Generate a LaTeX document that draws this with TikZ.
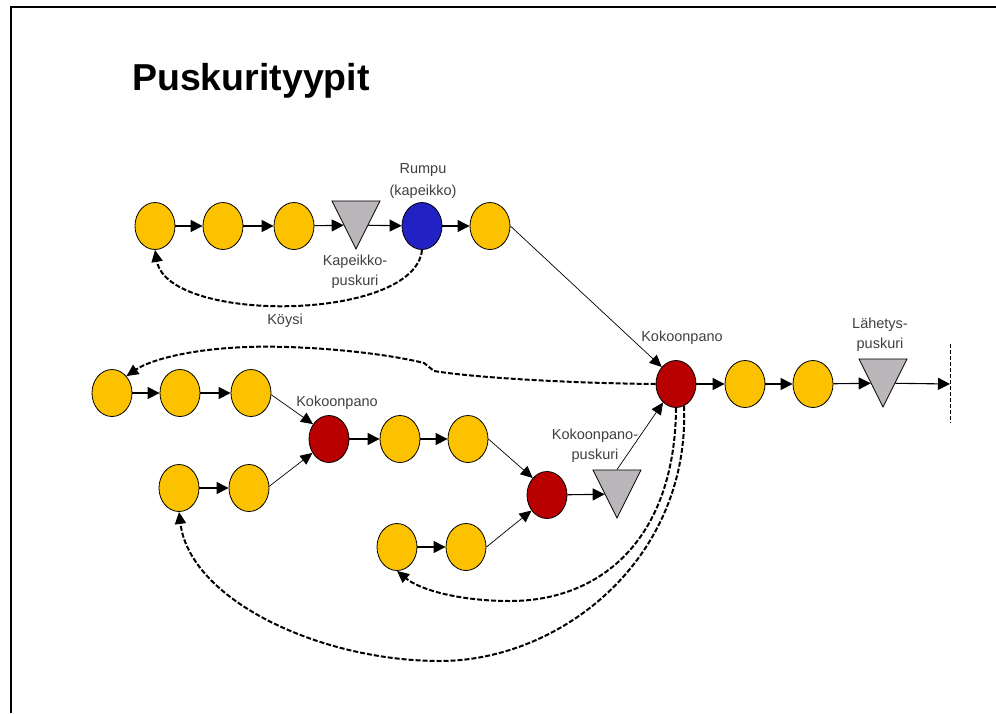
\documentclass[tikz,border=0pt]{standalone}
\usepackage{fontspec}
\setmainfont{Liberation Sans}
\usetikzlibrary{shapes.geometric,arrows.meta}
\definecolor{yel}{RGB}{252,194,0}
\definecolor{redn}{RGB}{184,0,0}
\definecolor{blun}{RGB}{34,34,196}
\definecolor{trig}{RGB}{186,182,186}
\definecolor{lbl}{RGB}{64,64,64}
\begin{document}
\begin{tikzpicture}[x=1pt,y=-1pt,
  ov/.style={ellipse, draw, line width=0.8pt, minimum width=40pt, minimum height=47pt, inner sep=0pt},
  yov/.style={ov, fill=yel}, rov/.style={ov, fill=redn}, bov/.style={ov, fill=blun},
  tri/.style={isosceles triangle, isosceles triangle stretches, shape border rotate=-90,
    minimum width=48pt, minimum height=48pt, inner sep=0pt, draw, line width=0.8pt, fill=trig, anchor=apex},
  arr/.style={line width=1.1pt, -{Triangle[length=12pt,width=12pt]}},
  darr/.style={line width=0.7pt, -{Triangle[length=12pt,width=11pt]}},
  dsh/.style={line width=2pt, dash pattern=on 5pt off 2pt, -{Triangle[length=12pt,width=11pt]}},
  lab/.style={font=\fontsize{14.5}{20}\selectfont, text=lbl, align=center, inner sep=0pt},
]
\useasboundingbox (0,0) rectangle (996,713);
\draw[line width=2pt] (11,713) -- (11,6.5) -- (996,6.5);
\node[anchor=base west, inner sep=0pt, font=\fontsize{37.5}{40}\selectfont\bfseries] (title) at (132,90) {Puskurityypit};

% top row
\node[yov] (A1) at (155,226) {};
\node[yov] (A2) at (223,226) {};
\node[yov] (A3) at (294,226) {};
\node[tri] (T1) at (356,250) {};
\node[bov] (B) at (422,226) {};
\node[yov] (A4) at (490,226) {};
\node[lab, font=\fontsize{14.5}{22}\selectfont] (lRumpu) at (423,181) {Rumpu\\(kapeikko)};
\node[lab] (lKap) at (355,272) {Kapeikko-\\puskuri};
\node[lab] (lKoy) at (285,321) {Köysi};

% middle rows
\node[yov] (M1) at (112,393) {};
\node[yov] (M2) at (180,393) {};
\node[yov] (M3) at (251,393) {};
\node[rov] (R1) at (329,439) {};
\node[lab] (lKok1) at (337,403) {Kokoonpano};
\node[yov] (M4) at (400,439) {};
\node[yov] (M5) at (468,439) {};
\node[yov] (L1) at (179,488) {};
\node[yov] (L2) at (249,488) {};
\node[rov] (R2) at (547,495) {};
\node[tri] (T2) at (617,519) {};
\node[lab] (lKp) at (595,446) {Kokoonpano-\\puskuri};
\node[yov] (P1) at (397,547) {};
\node[yov] (P2) at (466,547) {};

% main line
\node[rov] (R3) at (676,384) {};
\node[lab] (lKok2) at (682,338) {Kokoonpano};
\node[yov] (Y1) at (745,384) {};
\node[yov] (Y2) at (813,384) {};
\node[tri] (T3) at (883,408) {};
\node[lab] (lLah) at (880,335) {Lähetys-\\puskuri};
\coordinate (endc) at (950,384);
\coordinate (vtop) at (950,344);
\coordinate (vbot) at (950,423);

% solid connectors
\draw[arr] (A1) -- (A2);
\draw[arr] (A2) -- (A3);
\draw[arr] (A3) -- (T1.right side);
\draw[arr] (T1.left side) -- (B);
\draw[arr] (B) -- (A4);
\draw[darr] (A4.east) -- (R3.130);
\draw[arr] (M1) -- (M2);
\draw[arr] (M2) -- (M3);
\draw[darr] (M3.-5) -- (R1.137);
\draw[arr] (L1) -- (L2);
\draw[darr] (L2.5) -- (R1.-140);
\draw[arr] (R1) -- (M4);
\draw[arr] (M4) -- (M5);
\draw[darr] (M5.east) -- (R2.130);
\draw[arr] (P1) -- (P2);
\draw[darr] (P2.east) -- (R2.-135);
\draw[arr] (R2) -- (T2.right side);
\draw[darr] (T2.lower side) -- (R3.-125);
\draw[arr] (R3) -- (Y1);
\draw[arr] (Y1) -- (Y2);
\draw[arr] (Y2) -- (T3.right side);
\draw[arr] (T3.left side) -- (endc);
\draw[line width=1pt, dash pattern=on 4pt off 2pt] (vtop) -- (vbot);

% dashed loops
\draw[dsh] (B.south) .. controls (415,322) and (168,324) .. (A1.south);
\draw[dsh] (R3.west) .. controls (560,383) and (470,377) .. (434,371)
   -- (424,363) .. controls (380,352) and (300,345) .. (247,347)
   .. controls (190,349) and (150,360) .. (M1.north east);
\draw[dsh] (R3.south) .. controls (675,540) and (600,601) .. (510,601)
   .. controls (460,601) and (420,590) .. (P1.south);
\draw[dsh] (R3.-70) .. controls (690,560) and (560,661) .. (440,661)
   .. controls (320,661) and (190,600) .. (L1.south);
\end{tikzpicture}
\end{document}
